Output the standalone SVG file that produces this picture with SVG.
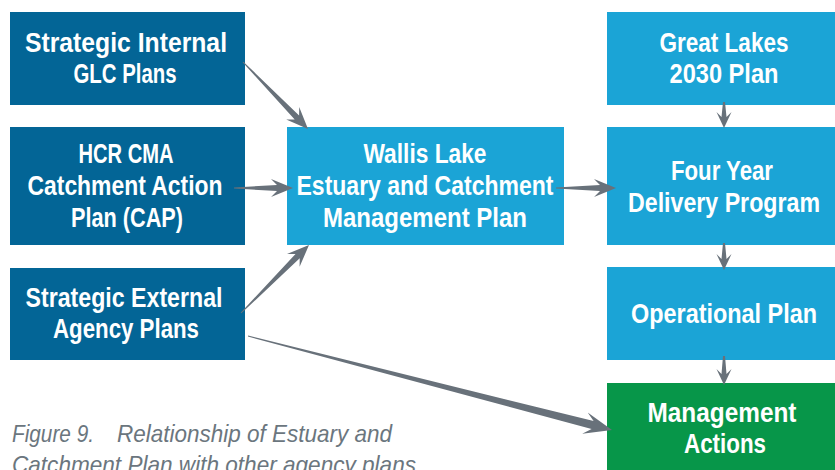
<svg xmlns="http://www.w3.org/2000/svg" width="835" height="470" viewBox="0 0 835 470">
<style>
.dark{fill:#036596}
.light{fill:#1ba4d6}
.green{fill:#079649}
.lbl{font-family:"Liberation Sans","Arial",sans-serif;font-weight:bold;font-size:28px;fill:#ffffff;text-anchor:middle}
.arr{fill:#68717a}
.cap{font-family:"Liberation Sans","Arial",sans-serif;font-style:italic;font-size:24px;fill:#6b767e}
</style>
<rect width="835" height="470" fill="#ffffff"/>
<g id="node-internal">
<rect class="dark" x="10" y="12" width="235" height="93"/>
<text class="lbl" x="126" y="52" textLength="202" lengthAdjust="spacingAndGlyphs">Strategic Internal</text>
<text class="lbl" x="125" y="83" textLength="103" lengthAdjust="spacingAndGlyphs">GLC Plans</text>
</g>
<g id="node-hcr">
<rect class="dark" x="10" y="127" width="235" height="118"/>
<text class="lbl" x="126" y="163" textLength="95" lengthAdjust="spacingAndGlyphs">HCR CMA</text>
<text class="lbl" x="125" y="195" textLength="195" lengthAdjust="spacingAndGlyphs">Catchment Action</text>
<text class="lbl" x="127" y="227" textLength="112" lengthAdjust="spacingAndGlyphs">Plan (CAP)</text>
</g>
<g id="node-external">
<rect class="dark" x="10" y="268" width="235" height="92"/>
<text class="lbl" x="124" y="307" textLength="197" lengthAdjust="spacingAndGlyphs">Strategic External</text>
<text class="lbl" x="126" y="338" textLength="146" lengthAdjust="spacingAndGlyphs">Agency Plans</text>
</g>
<g id="node-wallis">
<rect class="light" x="287" y="127" width="277" height="118"/>
<text class="lbl" x="425" y="163" textLength="123" lengthAdjust="spacingAndGlyphs">Wallis Lake</text>
<text class="lbl" x="425" y="195" textLength="257" lengthAdjust="spacingAndGlyphs">Estuary and Catchment</text>
<text class="lbl" x="425" y="227" textLength="204" lengthAdjust="spacingAndGlyphs">Management Plan</text>
</g>
<g id="node-greatlakes">
<rect class="light" x="607" y="12" width="228" height="93"/>
<text class="lbl" x="724" y="52" textLength="129" lengthAdjust="spacingAndGlyphs">Great Lakes</text>
<text class="lbl" x="724" y="83" textLength="109" lengthAdjust="spacingAndGlyphs">2030 Plan</text>
</g>
<g id="node-fouryear">
<rect class="light" x="607" y="127" width="228" height="118"/>
<text class="lbl" x="722" y="180" textLength="102" lengthAdjust="spacingAndGlyphs">Four Year</text>
<text class="lbl" x="724" y="212" textLength="192" lengthAdjust="spacingAndGlyphs">Delivery Program</text>
</g>
<g id="node-operational">
<rect class="light" x="607" y="267" width="228" height="93"/>
<text class="lbl" x="724" y="323" textLength="186" lengthAdjust="spacingAndGlyphs">Operational Plan</text>
</g>
<g id="node-actions">
<rect class="green" x="607" y="383" width="228" height="87"/>
<text class="lbl" x="722" y="422" textLength="149" lengthAdjust="spacingAndGlyphs">Management</text>
<text class="lbl" x="725" y="453" textLength="82" lengthAdjust="spacingAndGlyphs">Actions</text>
</g>
<g id="connectors">
<polygon class="arr" points="242.6,62.3 294.7,119.6 286.2,119.5 308,129 299.2,106.9 299.1,115.4 243.4,61.7"/>
<polygon class="arr" points="234,188.5 277,191 271,197 293,188 271,179 277,185 234,187.5"/>
<polygon class="arr" points="241.35,313.36 299.7,258.3 299.6,266.8 309,245 287.0,254.0 295.5,254.1 240.65,312.64"/>
<polygon class="arr" points="247.9,336.5 591.6,428.9 582.2,433.7 612,430 587.7,412.4 593.6,421.1 248.1,335.5"/>
<polygon class="arr" points="556,188.5 600,191 594,197 616,188 594,179 600,185 556,187.5"/>
<polygon class="arr" points="723,102 721.5,117 716.5,112 724,128 731.5,112 726.5,117 725,102"/>
<polygon class="arr" points="723,243 721.5,259 716.5,254 724,270 731.5,254 726.5,259 725,243"/>
<polygon class="arr" points="723,356 721.5,374 716.5,369 724,385 731.5,369 726.5,374 725,356"/>
</g>
<g id="caption">
<text class="cap" x="12" y="442" textLength="82" lengthAdjust="spacingAndGlyphs">Figure 9.</text>
<text class="cap" x="117" y="442" textLength="275" lengthAdjust="spacingAndGlyphs">Relationship of Estuary and</text>
<text class="cap" x="12" y="473" textLength="404" lengthAdjust="spacingAndGlyphs">Catchment Plan with other agency plans</text>
</g>
</svg>
